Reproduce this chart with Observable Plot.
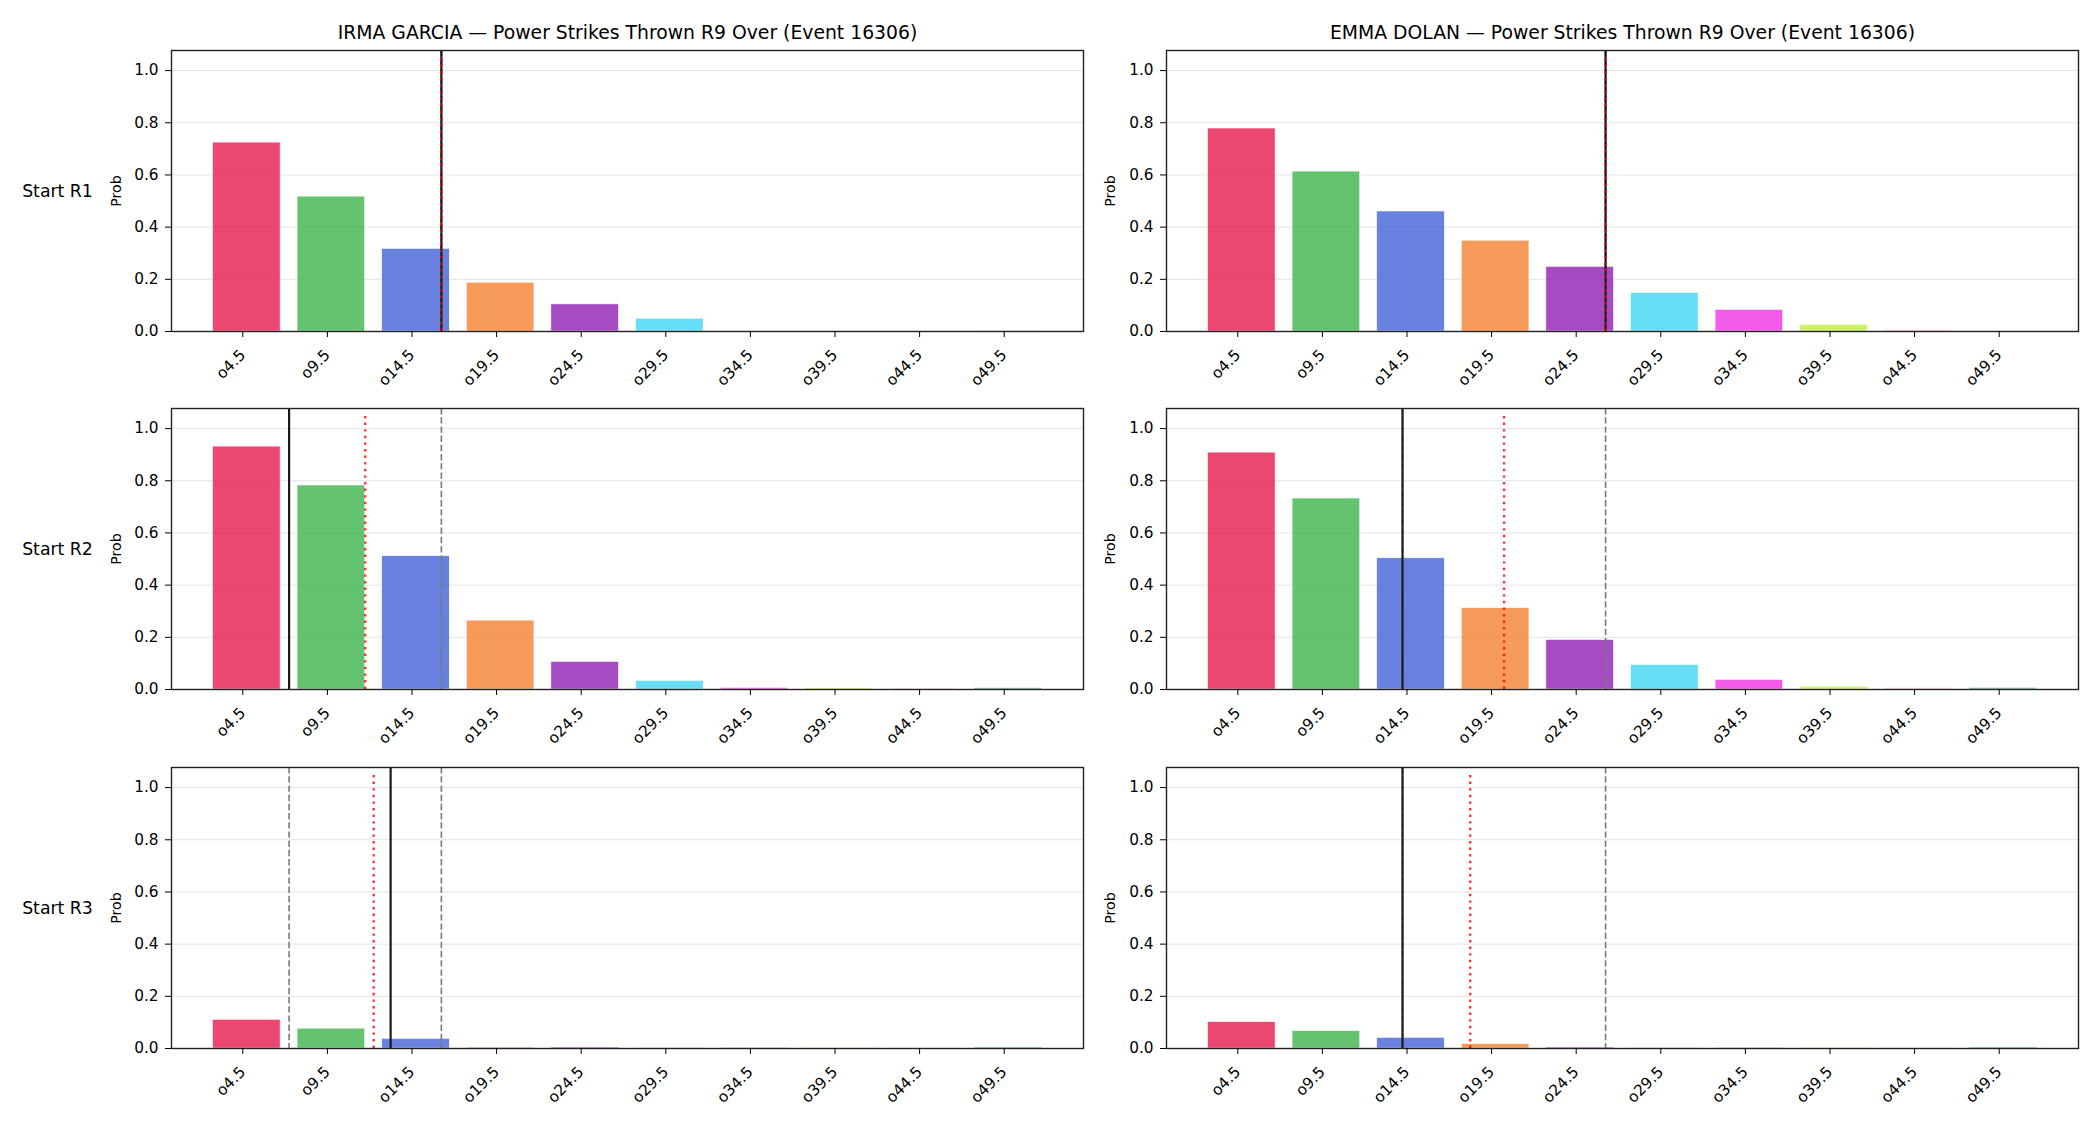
<!DOCTYPE html>
<html><head><meta charset="utf-8">
<script src="https://cdn.jsdelivr.net/npm/d3@7"></script>
<script src="https://cdn.jsdelivr.net/npm/@observablehq/plot@0.6"></script>
<style>
body{margin:0;background:#fff;}
#root{position:relative;width:2100px;height:1125px;overflow:hidden;background:#fff;}
#root svg{position:absolute;background:transparent;overflow:visible;}
</style></head>
<body><div id="root"></div>
<script>
// ---------- data ----------
const categories = ["o4.5","o9.5","o14.5","o19.5","o24.5","o29.5","o34.5","o39.5","o44.5","o49.5"];
const barColors = ["#e6194b","#3cb44b","#4363d8","#f58231","#911eb4","#42d4f4","#f032e6","#bfef45","#fabed4","#469990"];
const fighters = ["IRMA GARCIA","EMMA DOLAN"];
const marketName = "Power Strikes Thrown R9 Over";
const eventId = "16306";
const rowLabels = ["Start R1","Start R2","Start R3"];
const yTicks = [0,0.2,0.4,0.6,0.8,1.0];

const irmaR1 = [0.724,0.517,0.317,0.187,0.104,0.049,0.002,0.001,0.001,0.001];
const irmaR2 = [0.931,0.782,0.511,0.264,0.106,0.033,0.006,0.005,0.004,0.005];
const irmaR3 = [0.110,0.076,0.037,0.004,0.004,0.003,0.003,0.003,0.003,0.004];
const emmaR1 = [0.778,0.613,0.460,0.348,0.248,0.148,0.083,0.026,0.005,0.002];
const emmaR2 = [0.908,0.732,0.503,0.312,0.190,0.094,0.037,0.010,0.006,0.006];
const emmaR3 = [0.101,0.067,0.041,0.017,0.004,0.003,0.003,0.003,0.003,0.004];

// reference lines (in strikes) per row R1, R2, R3
const irmaSolid = [16,7,13];
const irmaRed   = [16,11.5,12];
const irmaLo    = [16,7,7];
const irmaHi    = [16,16,16];
const emmaSolid = [26,14,14];
const emmaRed   = [26,20,18];
const emmaLo    = [26,14,14];
const emmaHi    = [26,26,26];

// ---------- layout ----------
const root = document.getElementById("root");
const centers = categories.map(c => +c.slice(1));
const FONT = "DejaVu Sans, sans-serif";
const TICK_FS = 15.3;

const columns = [
  {left: 0, width: 1100, ml: 171, mr: 17, name: fighters[0], rows: [irmaR1, irmaR2, irmaR3],
   solid: irmaSolid, red: irmaRed, lo: irmaLo, hi: irmaHi, probDx: -55, showRow: true},
  {left: 1100, width: 1000, ml: 66, mr: 22, name: fighters[1], rows: [emmaR1, emmaR2, emmaR3],
   solid: emmaSolid, red: emmaRed, lo: emmaLo, hi: emmaHi, probDx: -56, showRow: false}
];
const frameTops = [50, 408, 767];
const frameH = 281;
const MT = 50, MB = 70;

columns.forEach((col) => {
  col.rows.forEach((vals, r) => {
    const data = vals.map((p, i) => ({c: centers[i], p, color: barColors[i]}));
    const marks = [
      Plot.ruleY(yTicks, {stroke: "#e3e3e3", strokeWidth: 1}),
      Plot.rectY(data, {x1: d => d.c - 2, x2: d => d.c + 2, y1: 0, y2: "p", fill: "color",
        fillOpacity: 0.8, stroke: "white", strokeWidth: 0.6}),
      Plot.ruleX([col.lo[r], col.hi[r]], {stroke: "#7a7a7a", strokeWidth: 1.6, strokeDasharray: "6.4,2.8"}),
      Plot.ruleX([col.solid[r]], {stroke: "#1a1a1a", strokeWidth: 2.2}),
      Plot.ruleX([col.red[r]], {y1: 0, y2: 1.05, stroke: "red", strokeOpacity: 0.8, strokeWidth: 2.4, strokeDasharray: "2.4,4.2"}),
      Plot.frame({stroke: "#222", strokeWidth: 1.4}),
      Plot.axisY({ticks: yTicks, tickFormat: d3.format(".1f"), tickSize: 6, tickPadding: 7, label: null, fontSize: TICK_FS}),
      Plot.axisX({ticks: centers, tickFormat: d => categories[centers.indexOf(d)], tickSize: 6, tickPadding: 15,
        dx: -4, tickRotate: -45, label: null, fontSize: TICK_FS}),
      Plot.text(["Prob"], {text: d => d, frameAnchor: "left", dx: col.probDx, rotate: -90, textAnchor: "middle",
        lineAnchor: "middle", fontSize: 14.2, fill: "black"})
    ];
    if (r === 0) {
      marks.push(Plot.text([`${col.name} — ${marketName} (Event ${eventId})`], {text: d => d, frameAnchor: "top",
        dy: -18, lineAnchor: "middle", textAnchor: "middle", fontSize: 18.8, fill: "black"}));
    }
    if (col.showRow) {
      marks.push(Plot.text([rowLabels[r]], {text: d => d, frameAnchor: "left", dx: -114, textAnchor: "middle",
        lineAnchor: "middle", fontSize: 17.3, fill: "black"}));
    }
    const svg = Plot.plot({
      width: col.width,
      height: MT + frameH + MB,
      marginLeft: col.ml, marginRight: col.mr, marginTop: MT, marginBottom: MB,
      x: {type: "linear", domain: [0.05, 53.95]},
      y: {domain: [0, 1.077]},
      color: {type: "identity"},
      style: {fontFamily: FONT, fontSize: TICK_FS + "px", color: "black", background: "transparent", overflow: "visible"},
      marks
    });
    svg.style.left = col.left + "px";
    svg.style.top = (frameTops[r] - MT) + "px";
    root.appendChild(svg);
  });
});
</script>
</body></html>
